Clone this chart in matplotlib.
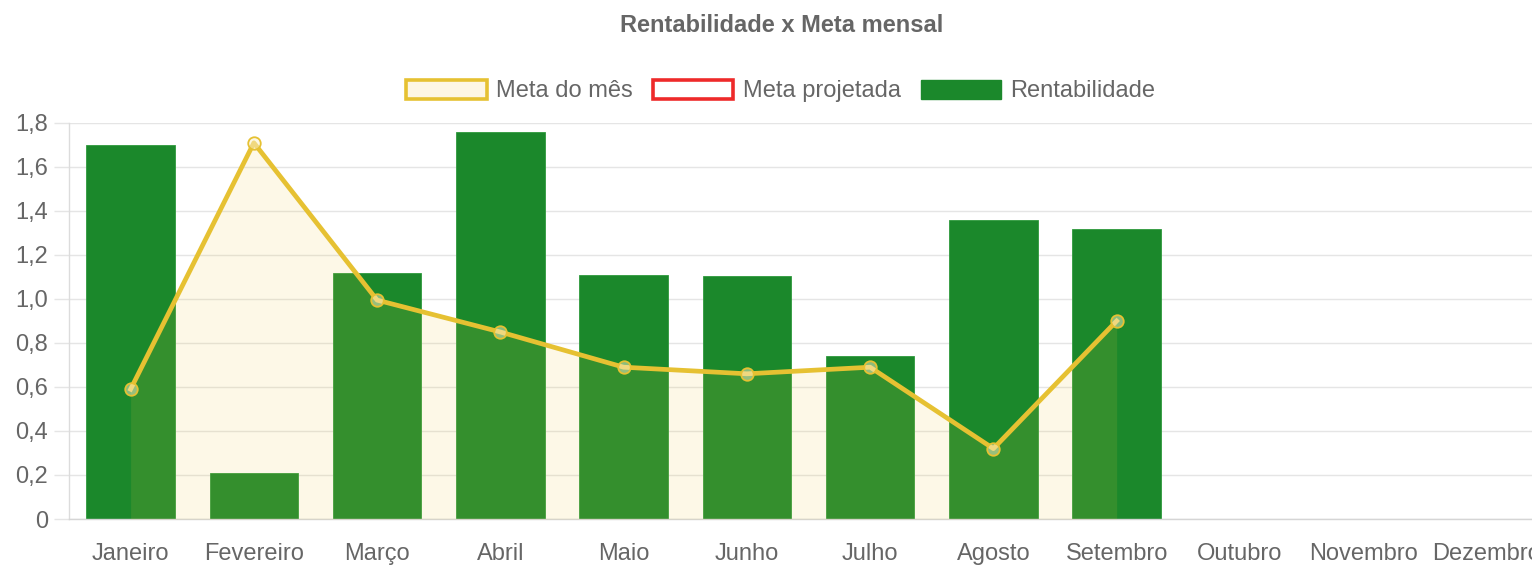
import matplotlib
matplotlib.use("Agg")
import matplotlib.pyplot as plt
from matplotlib.patches import Patch
import numpy as np

plt.rcParams['font.family'] = ['Liberation Sans', 'DejaVu Sans']

months = ["Janeiro", "Fevereiro", "Março", "Abril", "Maio", "Junho",
          "Julho", "Agosto", "Setembro", "Outubro", "Novembro", "Dezembro"]
rentabilidade = [1.70, 0.21, 1.12, 1.76, 1.11, 1.105, 0.74, 1.36, 1.32]
meta_mes = [0.59, 1.71, 0.995, 0.85, 0.69, 0.66, 0.69, 0.32, 0.90]
yticks = [0, 0.2, 0.4, 0.6, 0.8, 1.0, 1.2, 1.4, 1.6, 1.8]
ytick_labels = ["0", "0,2", "0,4", "0,6", "0,8", "1,0", "1,2", "1,4", "1,6", "1,8"]

GREEN = "#1b882b"
GOLD = "#e6c132"
RED = "#ee2a2a"
TXT = "#666666"
GRID = "#e5e5e5"

W, H = 1532, 567
fig = plt.figure(figsize=(W / 100, H / 100), dpi=100)
left, right, top, bottom = 69, 1548, 123, 519
ax = fig.add_axes([left / W, 1 - bottom / H, (right - left) / W, (bottom - top) / H])

x_all = np.arange(len(months))
xb = np.arange(len(rentabilidade))
xm = np.arange(len(meta_mes))

ax.bar(xb, rentabilidade, width=0.72, color=GREEN, edgecolor="#2e9a3c",
       linewidth=0.6, zorder=2)
ax.fill_between(xm, meta_mes, 0, color="#f0c840", alpha=0.12, linewidth=0, zorder=3)
ax.plot(xm, meta_mes, color=GOLD, linewidth=3.4, zorder=4,
        marker="o", markersize=9, markerfacecolor=(0.98, 0.94, 0.8, 0.5),
        markeredgecolor=GOLD, markeredgewidth=1.3)

ax.set_xlim(-0.5, len(months) - 0.5)
ax.set_ylim(0, 1.8)
ax.set_yticks(yticks)
ax.set_yticklabels(ytick_labels)
ax.set_xticks(x_all)
ax.set_xticklabels(months)

ax.grid(axis="y", color=GRID, linewidth=1.0, zorder=0)
ax.set_axisbelow(True)
ax.tick_params(axis="y", length=11, width=1.0, color=GRID, pad=4.3,
               labelsize=17, labelcolor=TXT)
ax.tick_params(axis="x", length=0, pad=17, labelsize=17, labelcolor=TXT)
for s in ["top", "right"]:
    ax.spines[s].set_visible(False)
ax.spines["left"].set_color("#dcdcdc")
ax.spines["bottom"].set_color("#d5d5d5")
ax.spines["left"].set_linewidth(1.0)
ax.spines["bottom"].set_linewidth(1.0)

fig.text(782 / W, 1 - 25 / H, "Rentabilidade x Meta mensal", ha="center", va="center",
         fontsize=17, fontweight="bold", color=TXT)

handles = [
    Patch(facecolor="#fdf6e4", edgecolor=GOLD, linewidth=2.6, label="Meta do mês"),
    Patch(facecolor="white", edgecolor=RED, linewidth=2.6, label="Meta projetada"),
    Patch(facecolor=GREEN, edgecolor=GREEN, linewidth=1, label="Rentabilidade"),
]
leg = fig.legend(handles=handles, loc="center", bbox_to_anchor=(781 / W, 1 - 91 / H),
                 ncol=3, frameon=False, fontsize=17, handlelength=3.4, handleheight=0.9,
                 handletextpad=0.4, columnspacing=0.85, borderpad=0)
for t in leg.get_texts():
    t.set_color(TXT)

fig.savefig("out.png", dpi=100)
